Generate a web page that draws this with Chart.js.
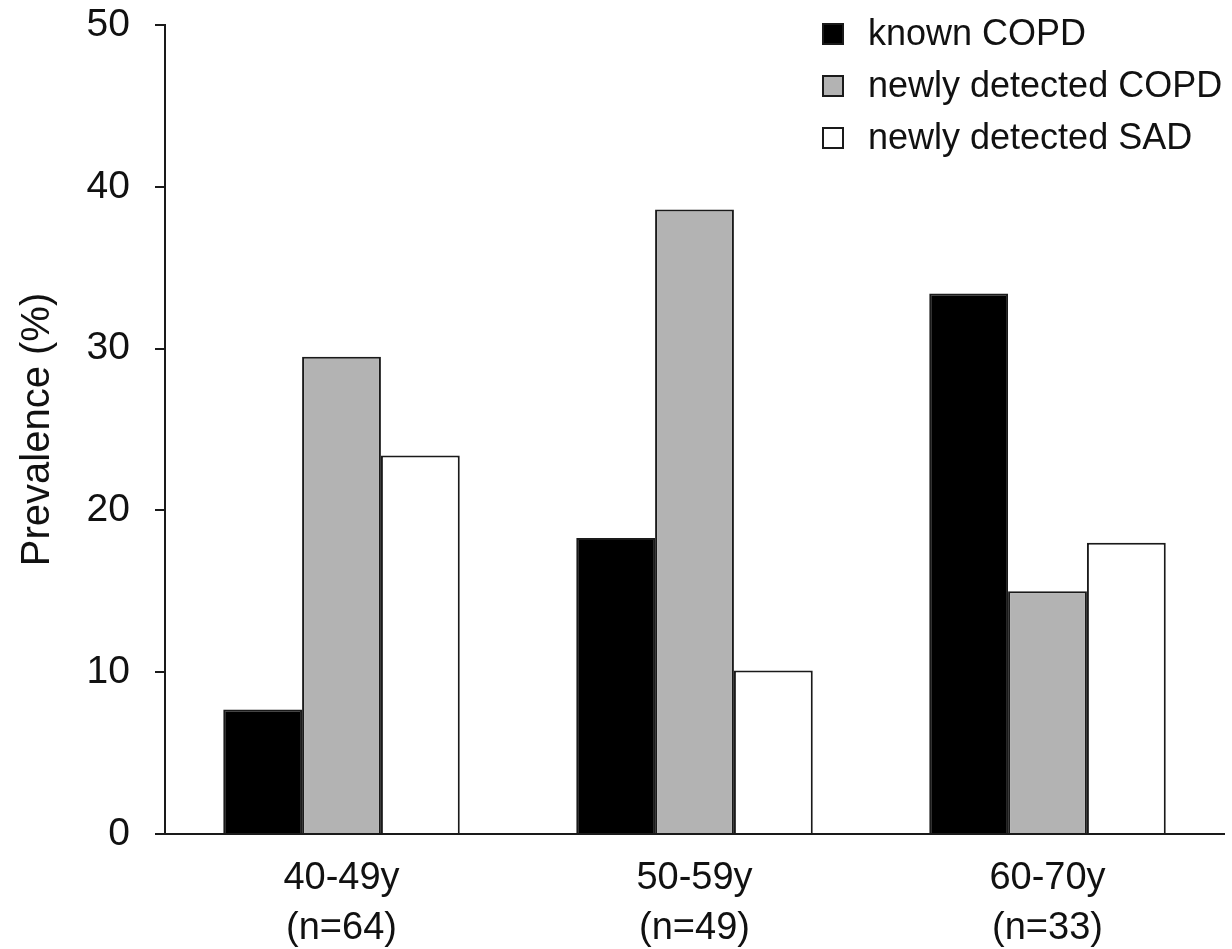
<!DOCTYPE html>
<html>
<head>
<meta charset="utf-8">
<title>Prevalence by age group</title>
<script src="https://cdn.jsdelivr.net/npm/chart.js@4.4.1/dist/chart.umd.min.js"></script>
<style>
  html, body { margin: 0; padding: 0; background: #fff; }
  #wrap { width: 1232px; height: 949px; position: relative; }
</style>
</head>
<body>
<div id="wrap"><canvas id="prevalenceChart"></canvas></div>
<script>
// Age groups (two-line tick labels)
const ageGroups = [
  ['40-49y', '(n=64)'],
  ['50-59y', '(n=49)'],
  ['60-70y', '(n=33)']
];

// Prevalence (%)
const knownCOPD = [7.7, 18.3, 33.4];
const newlyCOPD = [29.5, 38.6, 15.0];
const newlySAD = [23.4, 10.1, 18.0];

const seriesLabels = ['known COPD', 'newly detected COPD', 'newly detected SAD'];
const seriesColors = ['#000000', '#b3b3b3', '#ffffff'];

// y axis range / step
const yMin = 0;
const yMax = 50;
const yStep = 10;

const FONT = '"Liberation Sans", Arial, Helvetica, sans-serif';
const INK = '#1a1a1a';

// Legend drawn inside the plot, top right (square + label per series)
const boxLegend = {
  id: 'boxLegend',
  afterDraw(chart) {
    const ctx = chart.ctx;
    const x = 822, y0 = 34, gap = 52, size = 22;
    ctx.save();
    ctx.font = '36px ' + FONT;
    ctx.textBaseline = 'middle';
    chart.data.datasets.forEach((ds, i) => {
      const y = y0 + i * gap;
      ctx.fillStyle = ds.backgroundColor;
      ctx.fillRect(x, y - size / 2, size, size);
      ctx.lineWidth = 2;
      ctx.strokeStyle = INK;
      ctx.strokeRect(x + 1, y - size / 2 + 1, size - 2, size - 2);
      ctx.fillStyle = '#111';
      ctx.fillText(ds.label, 868, y + 1);
    });
    ctx.restore();
  }
};

const datasets = [knownCOPD, newlyCOPD, newlySAD].map((values, i) => ({
  label: seriesLabels[i],
  data: values,
  backgroundColor: seriesColors[i],
  borderColor: INK,
  borderWidth: 2,
  categoryPercentage: 0.67,
  barPercentage: 1.0
}));

new Chart(document.getElementById('prevalenceChart'), {
  type: 'bar',
  data: { labels: ageGroups, datasets },
  plugins: [boxLegend],
  options: {
    responsive: true,
    maintainAspectRatio: false,
    animation: false,
    layout: { padding: { top: 25, right: 8, bottom: 0, left: 0 } },
    plugins: {
      legend: { display: false },
      tooltip: { enabled: false }
    },
    scales: {
      x: {
        grid: { display: false, drawTicks: false },
        border: { display: true, color: INK, width: 2 },
        ticks: {
          color: '#111',
          padding: 19,
          font: { family: FONT, size: 38, lineHeight: 1.32 }
        },
        afterFit(scale) {
          scale.height = 115;
          scale.paddingLeft = 0;
          scale.paddingRight = 0;
        }
      },
      y: {
        min: yMin,
        max: yMax,
        grid: {
          drawOnChartArea: false,
          drawTicks: true,
          tickLength: 10,
          color: INK,
          lineWidth: 2
        },
        border: { display: true, color: INK, width: 2 },
        ticks: {
          stepSize: yStep,
          color: '#111',
          padding: 25,
          font: { family: FONT, size: 39 }
        },
        title: {
          display: true,
          text: 'Prevalence (%)',
          color: '#111',
          padding: { top: 14, bottom: 0 },
          font: { family: FONT, size: 40, lineHeight: 1.2 }
        },
        afterFit(scale) {
          scale.width = 165;
          scale.paddingTop = 0;
          scale.paddingBottom = 0;
        }
      }
    }
  }
});
</script>
</body>
</html>
